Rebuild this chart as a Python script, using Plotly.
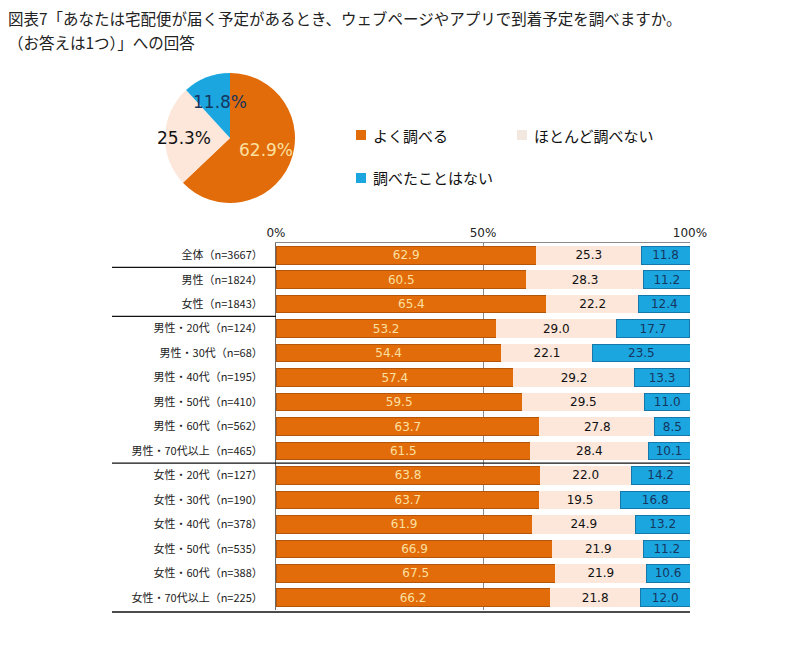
import plotly.graph_objects as go

categories = ["全体（n=3667）", "男性（n=1824）", "女性（n=1843）",
              "男性・20代（n=124）", "男性・30代（n=68）", "男性・40代（n=195）",
              "男性・50代（n=410）", "男性・60代（n=562）", "男性・70代以上（n=465）",
              "女性・20代（n=127）", "女性・30代（n=190）", "女性・40代（n=378）",
              "女性・50代（n=535）", "女性・60代（n=388）", "女性・70代以上（n=225）"]
series_names = ["よく調べる", "ほとんど調べない", "調べたことはない"]
often = [62.9, 60.5, 65.4, 53.2, 54.4, 57.4, 59.5, 63.7, 61.5, 63.8, 63.7, 61.9, 66.9, 67.5, 66.2]
rarely = [25.3, 28.3, 22.2, 29.0, 22.1, 29.2, 29.5, 27.8, 28.4, 22.0, 19.5, 24.9, 21.9, 21.9, 21.8]
never = [11.8, 11.2, 12.4, 17.7, 23.5, 13.3, 11.0, 8.5, 10.1, 14.2, 16.8, 13.2, 11.2, 10.6, 12.0]
pie_values = [62.9, 25.3, 11.8]
x_ticks = [0, 50, 100]
x_tick_labels = ["0%", "50%", "100%"]
separators = [0.5, 2.5]
long_separators = [8.5]
title_lines = ["図表7「あなたは宅配便が届く予定があるとき、ウェブページやアプリで到着予定を調べますか。",
               "（お答えは1つ）」への回答"]

colors = ["#E26B0A", "#FCE7DA", "#1CA6E0"]
line_colors = ["#B4560A", "#FCE7DA", "#1578A8"]
text_colors = ["#FBE0A0", "#111111", "#15365E"]
legend_square_colors = ["#E26B0A", "#F2E8E0", "#1CA6E0"]

NUM_FONT = "DejaVu Sans"
JP_FONT = "Noto Sans CJK JP"

# page body has an 8px margin; map reference window pixels to paper coords
OFF = 8
W, H = 800 - 2 * OFF, 670 - 2 * OFF


def px(x):
    return (x - OFF) / W


def py(y):
    return 1 - (y - OFF) / H


fig = go.Figure()

for i, vals in enumerate([often, rarely, never]):
    fig.add_trace(go.Bar(
        y=categories, x=vals, orientation="h", name=series_names[i],
        marker=dict(color=colors[i], line=dict(color=line_colors[i], width=1)),
        texttemplate="%{x:.1f}", textposition="inside", insidetextanchor="middle",
        textfont=dict(family=NUM_FONT, size=12, color=text_colors[i]),
        constraintext="none", width=0.72, hoverinfo="skip", showlegend=False,
    ))

fig.add_trace(go.Pie(
    values=pie_values, labels=series_names, sort=False, direction="clockwise",
    rotation=0, marker=dict(colors=colors, line=dict(color="#FFFFFF", width=0)),
    textinfo="none",
    domain=dict(x=[px(165), px(295)], y=[py(203), py(73)]), showlegend=False,
    hoverinfo="skip",
))

annotations = []
# pie labels
pie_label_pos = [(266, 150), (184, 138), (220, 102)]
for v, (lx, ly), c in zip(pie_values, pie_label_pos, text_colors):
    annotations.append(dict(
        text=f"{v:.1f}%", x=px(lx), y=py(ly), xref="paper", yref="paper",
        showarrow=False, xanchor="center", yanchor="middle",
        font=dict(family=NUM_FONT, size=17, color=c)))

for k, line in enumerate(title_lines):
    annotations.append(dict(
        text=line, x=px(6), y=py(18 + 24 * k), xref="paper", yref="paper",
        showarrow=False, xanchor="left", yanchor="middle",
        font=dict(family=JP_FONT, size=15.5, color="#222222")))

X0, X100 = px(276), px(690)
shapes = []
for s in separators:
    shapes.append(dict(type="line", xref="paper", yref="y", x0=px(112), x1=X0,
                       y0=s, y1=s, line=dict(color="#111111", width=1.2)))
for s in long_separators:
    shapes.append(dict(type="line", xref="paper", yref="y", x0=px(112), x1=X100,
                       y0=s, y1=s, line=dict(color="#111111", width=1.2)))
shapes.append(dict(type="line", xref="paper", yref="paper", x0=px(112), x1=X100,
                   y0=py(612), y1=py(612), line=dict(color="#111111", width=1.6)))

# manual legend
legend_pos = [(361, 135), (522, 135), (361, 178)]
for name, (lx, ly), c in zip(series_names, legend_pos, legend_square_colors):
    shapes.append(dict(type="rect", xref="paper", yref="paper",
                       x0=px(lx - 5), x1=px(lx + 5), y0=py(ly + 5), y1=py(ly - 5),
                       fillcolor=c, line=dict(width=0)))
    annotations.append(dict(
        text=name, x=px(lx + 10), y=py(ly), xref="paper", yref="paper",
        showarrow=False, xanchor="left", yanchor="middle",
        font=dict(family=JP_FONT, size=15, color="#111111")))

fig.update_layout(
    width=W, height=H,
    margin=dict(l=0, r=0, t=0, b=0, autoexpand=False),
    paper_bgcolor="white", plot_bgcolor="white",
    barmode="stack",
    font=dict(family=JP_FONT, color="#222222"),
    xaxis=dict(
        domain=[X0, X100], range=[0, 100], side="top",
        tickmode="array", tickvals=x_ticks, ticktext=x_tick_labels,
        showgrid=True, gridcolor="#8A8A8A",
        gridwidth=1, zeroline=False, showline=True, linecolor="#8A8A8A",
        linewidth=1, ticks="", tickfont=dict(family=NUM_FONT, size=12, color="#222222"),
        fixedrange=True, automargin=False,
    ),
    yaxis=dict(
        domain=[py(610), py(243)], autorange="reversed", showline=True,
        linecolor="#6A6A6A", linewidth=1, ticks="", ticklabelstandoff=10,
        tickfont=dict(family=JP_FONT, size=11, color="#222222"), showgrid=False,
        fixedrange=True, automargin=False,
    ),
    annotations=annotations,
    shapes=shapes,
    showlegend=False,
)

fig.write_html("out.html")
